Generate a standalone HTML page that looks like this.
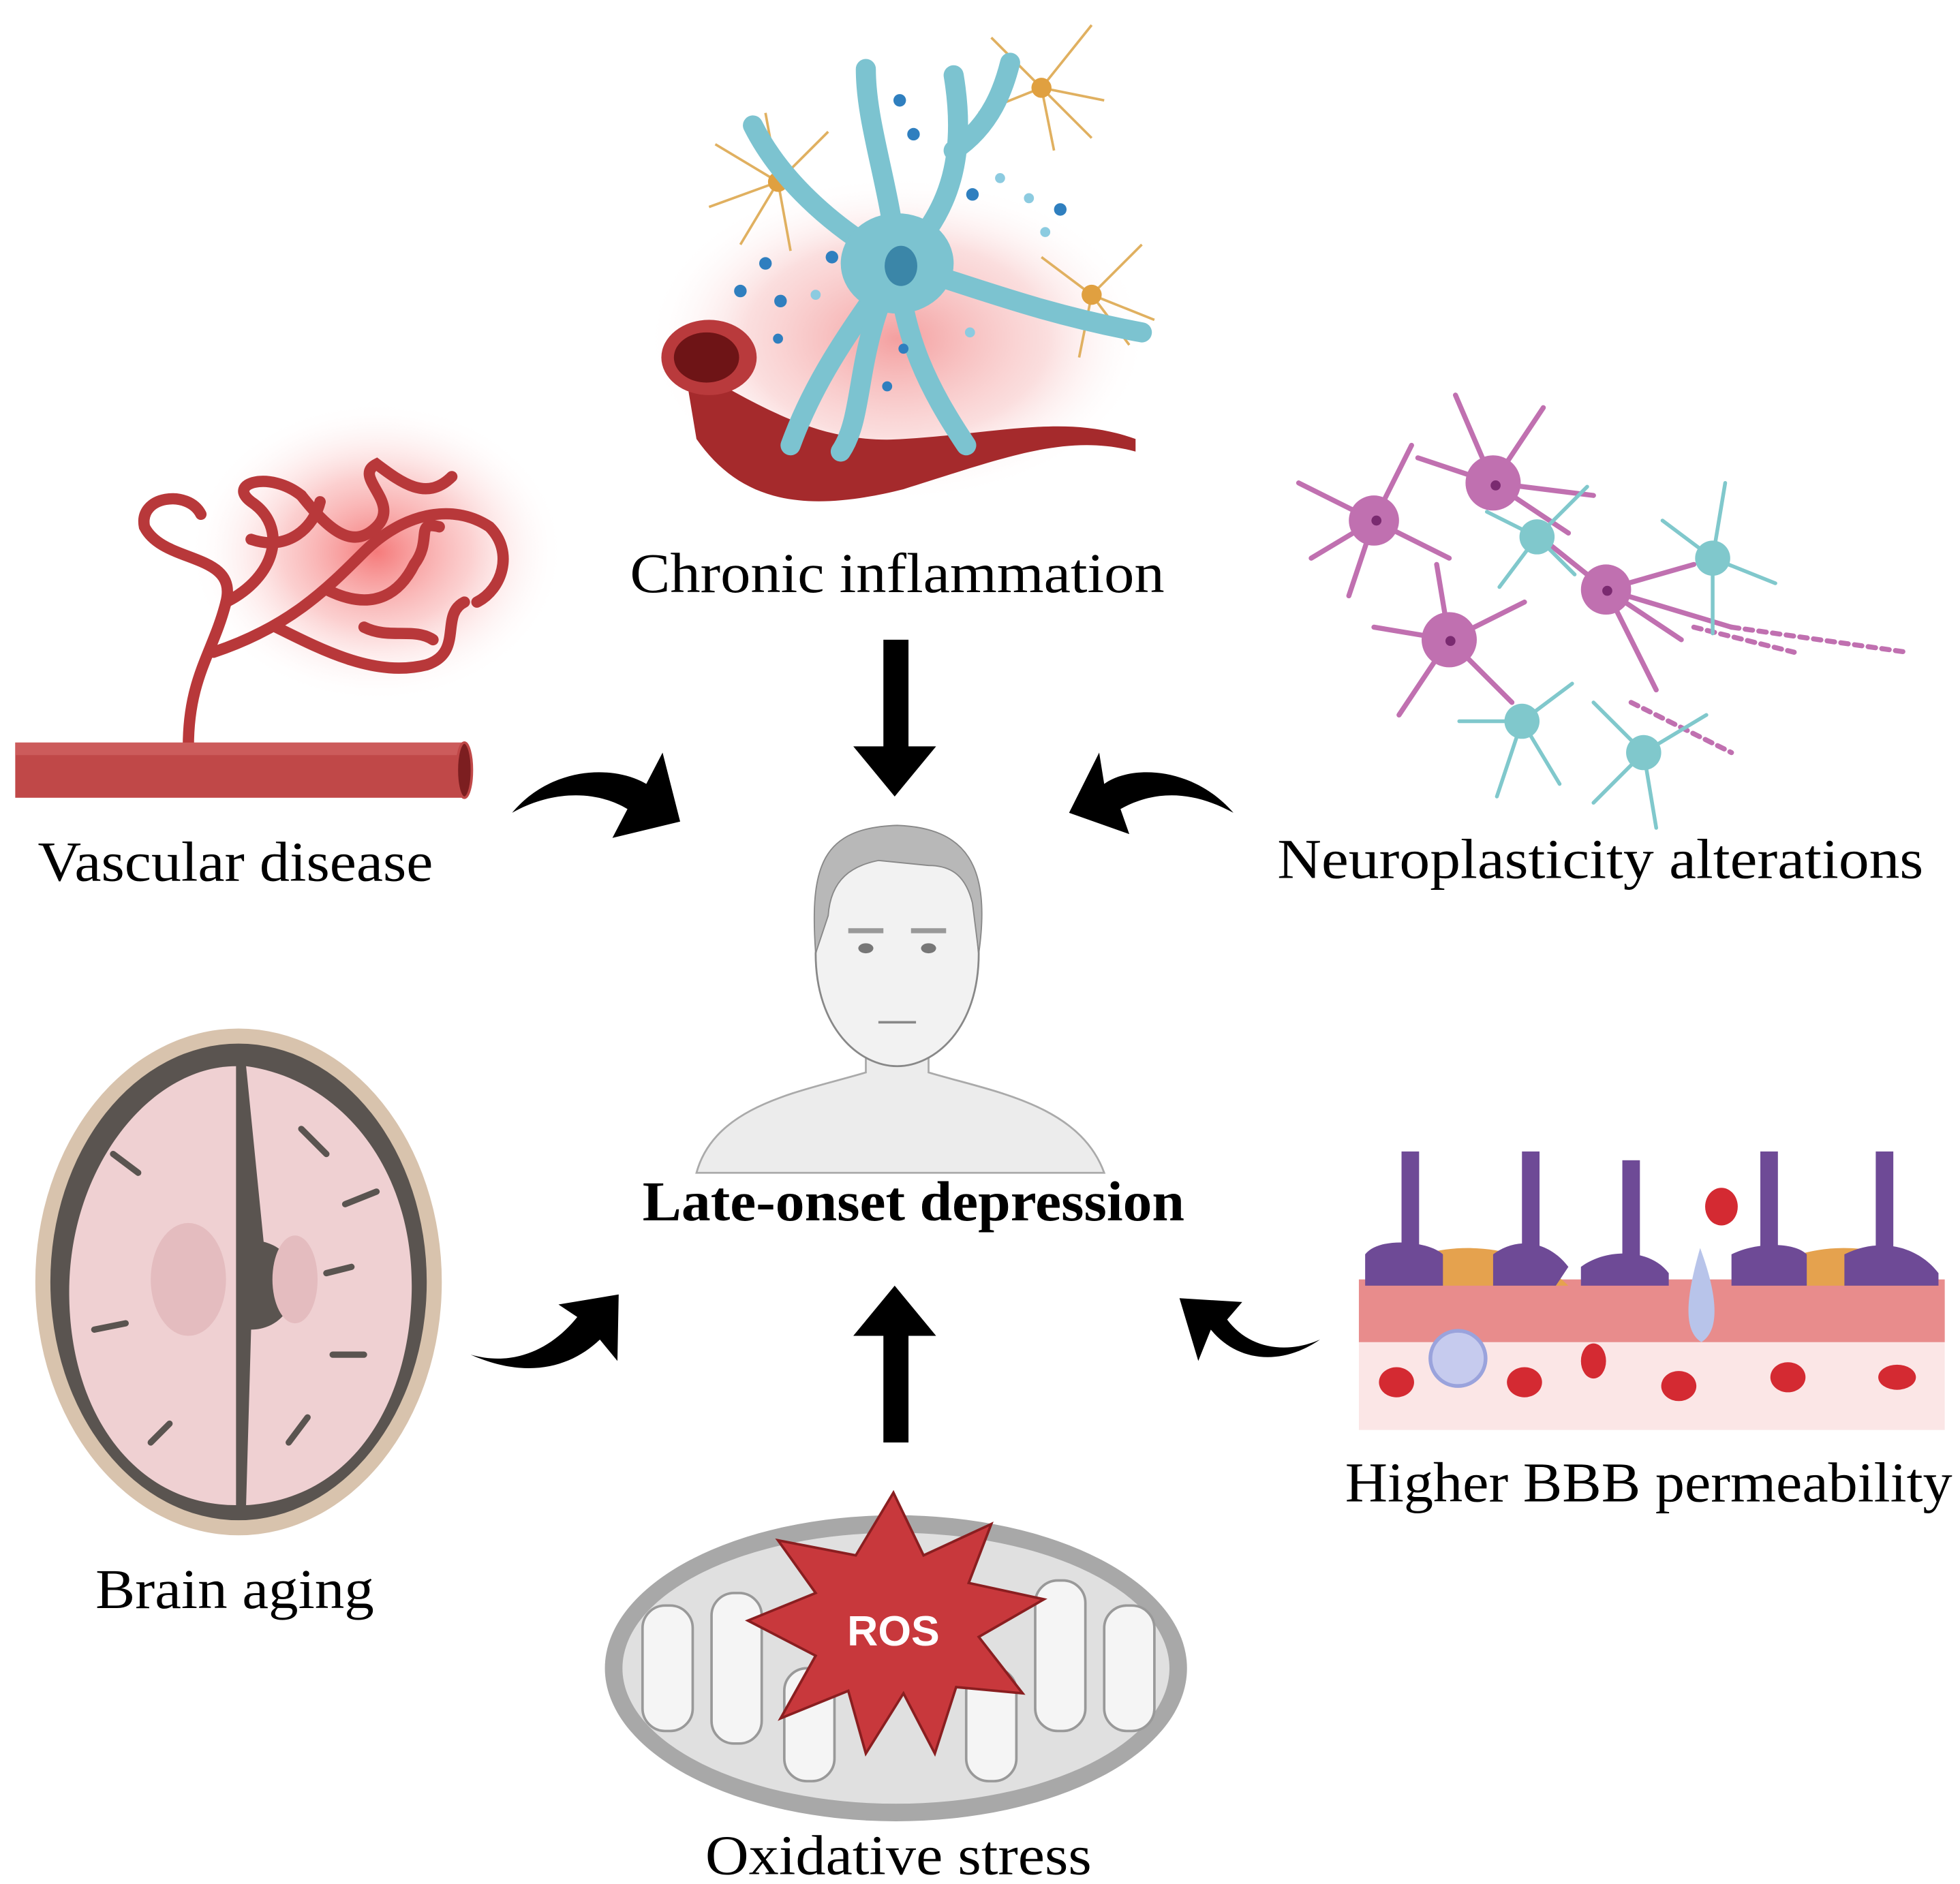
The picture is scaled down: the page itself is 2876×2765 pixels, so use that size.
<!DOCTYPE html>
<html><head><style>html,body{margin:0;padding:0;background:#fff}svg{display:block}</style></head>
<body>
<svg width="2876" height="2765" viewBox="0 0 1562 1502" xmlns="http://www.w3.org/2000/svg">
<defs>
<radialGradient id="rg" cx="0.5" cy="0.5" r="0.5"><stop offset="0" stop-color="#f4a0a0"/><stop offset="0.6" stop-color="#f8c8c8" stop-opacity="0.6"/><stop offset="1" stop-color="#fff" stop-opacity="0"/></radialGradient>
<radialGradient id="rg2" cx="0.5" cy="0.5" r="0.5"><stop offset="0" stop-color="#f57a7a"/><stop offset="0.5" stop-color="#f9b0b0" stop-opacity="0.6"/><stop offset="1" stop-color="#fff" stop-opacity="0"/></radialGradient>
</defs>
<rect width="1562" height="1502" fill="#fff"/>

<!-- Vascular disease -->
<ellipse cx="300" cy="440" rx="150" ry="120" fill="url(#rg2)"/>
<g fill="none" stroke="#b8383a" stroke-width="9" stroke-linecap="round">
<path d="M150 595 C150 540 170 520 180 480 C190 440 130 450 115 420 C110 395 150 390 160 410"/>
<path d="M180 480 C220 460 230 420 200 400 C180 385 215 375 240 395"/>
<path d="M170 520 C230 500 260 470 290 440 C320 410 360 400 390 420 C410 440 400 470 380 480"/>
<path d="M220 500 C260 520 300 540 340 530 C370 520 350 490 370 480"/>
<path d="M240 395 C260 420 280 440 300 420 C320 400 280 380 300 370 C320 385 340 400 360 380"/>
<path d="M260 470 C300 490 320 470 330 450 C345 430 330 415 350 420"/>
<path d="M200 430 C230 440 250 420 255 400"/>
<path d="M290 500 C310 510 330 500 345 510"/>
</g>
<rect x="12" y="592" width="360" height="44" fill="#c04848"/>
<rect x="12" y="592" width="360" height="10" fill="#cc5b5b"/>
<ellipse cx="370" cy="614" rx="6" ry="22" fill="#7c1e20" stroke="#c04848" stroke-width="2"/>

<!-- Chronic inflammation -->
<ellipse cx="715" cy="270" rx="200" ry="130" fill="url(#rg)"/>
<path d="M545 290 C600 320 650 355 720 350 C800 345 850 330 905 350 L905 360 C850 345 800 365 720 390 C640 410 590 400 555 350 Z" fill="#a52a2c"/>
<ellipse cx="565" cy="285" rx="38" ry="30" fill="#b93a3c"/>
<ellipse cx="563" cy="285" rx="26" ry="20" fill="#6e1416"/>
<g fill="none" stroke="#e0b060" stroke-width="2">
<path d="M620 145 l-50 -30 M620 145 l-55 20 M620 145 l-30 50 M620 145 l40 -40 M620 145 l10 55 M620 145 l-10 -55"/>
<path d="M830 70 l-40 -40 M830 70 l40 -50 M830 70 l50 10 M830 70 l-50 20 M830 70 l10 50 M830 70 l40 40"/>
<path d="M870 235 l-40 -30 M870 235 l40 -40 M870 235 l50 20 M870 235 l-10 50 M870 235 l30 40"/>
</g>
<circle cx="620" cy="145" r="8" fill="#e0a040"/><circle cx="830" cy="70" r="8" fill="#e0a040"/><circle cx="870" cy="235" r="8" fill="#e0a040"/>
<g fill="none" stroke="#7cc3d0" stroke-width="16" stroke-linecap="round">
<path d="M715 210 C710 150 690 100 690 55"/>
<path d="M715 210 C660 180 620 140 600 100"/>
<path d="M715 210 C760 170 770 120 760 60 M760 120 C790 100 800 70 805 50"/>
<path d="M715 210 C780 230 830 250 910 265"/>
<path d="M715 210 C680 260 650 300 630 355"/>
<path d="M715 210 C720 270 740 310 770 355"/>
<path d="M715 210 C680 280 690 330 670 360"/>
</g>
<ellipse cx="715" cy="210" rx="45" ry="40" fill="#7cc3d0"/>
<ellipse cx="718" cy="212" rx="13" ry="16" fill="#3b86a8"/>
<g fill="#2f7fbf"><circle cx="717" cy="80" r="5"/><circle cx="728" cy="107" r="5"/><circle cx="775" cy="155" r="5"/><circle cx="845" cy="167" r="5"/><circle cx="663" cy="205" r="5"/><circle cx="610" cy="210" r="5"/><circle cx="590" cy="232" r="5"/><circle cx="622" cy="240" r="5"/><circle cx="720" cy="278" r="4"/><circle cx="707" cy="308" r="4"/><circle cx="620" cy="270" r="4"/></g>
<g fill="#8ccbe0"><circle cx="797" cy="142" r="4"/><circle cx="820" cy="158" r="4"/><circle cx="833" cy="185" r="4"/><circle cx="773" cy="265" r="4"/><circle cx="650" cy="235" r="4"/></g>

<!-- Neuroplasticity -->
<g fill="none" stroke="#c070b0" stroke-width="4" stroke-linecap="round">
<path d="M1095 415 l-60 -30 M1095 415 l-50 30 M1095 415 l-20 60 M1095 415 l30 -60 M1095 415 l60 30"/>
<path d="M1190 385 l-30 -70 M1190 385 l40 -60 M1190 385 l80 10 M1190 385 l-60 -20 M1190 385 l60 40"/>
<path d="M1280 470 l70 -20 M1280 470 l60 40 M1280 470 l-50 -40 M1280 470 l100 30 M1280 470 l40 80"/>
<path d="M1155 510 l-60 -10 M1155 510 l-40 60 M1155 510 l50 50 M1155 510 l60 -30 M1155 510 l-10 -60"/>
<path d="M1350 500 l80 20 M1380 500 l140 20 M1300 560 l80 40" stroke-dasharray="6 5"/>
</g>
<g fill="#c070b0"><circle cx="1095" cy="415" r="20"/><circle cx="1190" cy="385" r="22"/><circle cx="1280" cy="470" r="20"/><circle cx="1155" cy="510" r="22"/></g>
<g fill="#7a2a70"><circle cx="1097" cy="415" r="4"/><circle cx="1192" cy="387" r="4"/><circle cx="1281" cy="471" r="4"/><circle cx="1156" cy="511" r="4"/></g>
<g fill="none" stroke="#80c8cc" stroke-width="3" stroke-linecap="round">
<path d="M1225 428 l-40 -20 M1225 428 l40 -40 M1225 428 l30 30 M1225 428 l-30 40"/>
<path d="M1365 445 l-40 -30 M1365 445 l10 -60 M1365 445 l50 20 M1365 445 l0 60"/>
<path d="M1213 575 l-50 0 M1213 575 l-20 60 M1213 575 l40 -30 M1213 575 l30 50"/>
<path d="M1310 600 l-40 -40 M1310 600 l50 -30 M1310 600 l10 60 M1310 600 l-40 40"/>
</g>
<g fill="#80c8cc"><circle cx="1225" cy="428" r="14"/><circle cx="1365" cy="445" r="14"/><circle cx="1213" cy="575" r="14"/><circle cx="1310" cy="600" r="14"/></g>

<!-- Person -->
<path d="M555 935 C570 880 640 870 690 855 L690 800 L740 800 L740 855 C790 870 860 880 880 935 Z" fill="#ececec" stroke="#aaa" stroke-width="1.5"/>
<path d="M660 700 C660 655 770 650 775 700 L780 760 C780 820 745 850 715 850 C685 850 650 820 650 760 Z" fill="#f2f2f2" stroke="#888" stroke-width="1.5"/>
<path d="M650 760 C645 690 655 660 715 658 C770 660 790 690 780 760 L775 720 C770 700 760 690 740 690 L700 686 C680 690 662 700 660 730 Z" fill="#b8b8b8" stroke="#888" stroke-width="1"/>
<g fill="#777"><ellipse cx="690" cy="756" rx="6" ry="4"/><ellipse cx="740" cy="756" rx="6" ry="4"/></g>
<path d="M700 815 h30" stroke="#888" stroke-width="2"/>
<path d="M676 742 h28 M726 742 h28" stroke="#999" stroke-width="4"/>

<!-- Brain aging -->
<ellipse cx="190" cy="1022" rx="162" ry="202" fill="#d8c3ad"/>
<ellipse cx="190" cy="1022" rx="150" ry="190" fill="#5a5450"/>
<path d="M188 850 C120 850 55 930 55 1030 C55 1130 110 1200 188 1200 Z" fill="#efd0d2"/>
<path d="M196 850 C270 860 330 930 328 1030 C326 1120 280 1195 196 1200 L200 1060 C240 1060 250 1000 210 990 Z" fill="#efd0d2"/>
<ellipse cx="150" cy="1020" rx="30" ry="45" fill="#e4bcbf"/>
<ellipse cx="235" cy="1020" rx="18" ry="35" fill="#e4bcbf"/>
<g fill="none" stroke="#5a5450" stroke-width="5" stroke-linecap="round">
<path d="M240 900 l20 20 M300 950 l-25 10 M290 1080 l-25 0 M230 1150 l15 -20 M90 920 l20 15 M75 1060 l25 -5 M120 1150 l15 -15 M280 1010 l-20 5"/>
</g>

<!-- BBB -->
<rect x="1083" y="1035" width="467" height="105" fill="#fbe6e6"/>
<rect x="1083" y="1020" width="467" height="50" fill="#e88c8c"/>
<path d="M1090 1025 C1130 985 1210 985 1250 1025 Z M1390 1025 C1430 985 1510 985 1545 1025 Z" fill="#e5a24e"/>
<g fill="#6e4a96">
<rect x="1117" y="918" width="14" height="80"/><rect x="1213" y="918" width="14" height="80"/><rect x="1293" y="925" width="14" height="80"/><rect x="1403" y="918" width="14" height="80"/><rect x="1495" y="918" width="14" height="80"/>
<path d="M1088 1000 C1100 985 1140 990 1150 1000 L1150 1025 L1088 1025 Z M1190 1000 C1210 985 1235 990 1250 1010 L1240 1025 L1190 1025 Z M1260 1010 C1280 995 1315 995 1330 1015 L1330 1025 L1260 1025 Z M1380 1000 C1400 990 1430 990 1440 1000 L1440 1025 L1380 1025 Z M1470 1000 C1500 985 1530 995 1545 1015 L1545 1025 L1470 1025 Z"/>
</g>
<path d="M1355 995 C1345 1030 1340 1060 1356 1070 C1372 1060 1368 1030 1355 995 Z" fill="#b8c4ea"/>
<circle cx="1162" cy="1083" r="22" fill="#c6cbee" stroke="#9aa3dc" stroke-width="3"/>
<g fill="#d42a32"><ellipse cx="1372" cy="962" rx="13" ry="15"/><ellipse cx="1113" cy="1102" rx="14" ry="12"/><ellipse cx="1215" cy="1102" rx="14" ry="12"/><ellipse cx="1270" cy="1085" rx="10" ry="14"/><ellipse cx="1338" cy="1105" rx="14" ry="12"/><ellipse cx="1425" cy="1098" rx="14" ry="12"/><ellipse cx="1512" cy="1098" rx="15" ry="10"/></g>

<!-- Mitochondria -->
<ellipse cx="714" cy="1330" rx="232" ry="122" fill="#a8a8a8"/>
<ellipse cx="714" cy="1330" rx="218" ry="108" fill="#e0e0e0"/>
<g fill="#f5f5f5" stroke="#999" stroke-width="2">
<rect x="512" y="1280" width="40" height="100" rx="18"/><rect x="567" y="1270" width="40" height="120" rx="18"/><rect x="625" y="1330" width="40" height="90" rx="18"/><rect x="770" y="1330" width="40" height="90" rx="18"/><rect x="825" y="1260" width="40" height="120" rx="18"/><rect x="880" y="1280" width="40" height="100" rx="18"/>
</g>
<polygon points="712,1190 736,1240 790,1215 772,1262 832,1275 780,1305 815,1350 762,1345 745,1398 720,1350 690,1398 676,1348 622,1370 650,1320 596,1292 650,1270 620,1228 682,1240" fill="#c8383c" stroke="#8a1e20" stroke-width="2"/>
<text x="712" y="1312" text-anchor="middle" font-family="Liberation Sans, sans-serif" font-weight="bold" font-size="34" fill="#fff">ROS</text>

<!-- Arrows -->
<g fill="#000">
<path d="M704 510 h20 v85 h22 l-33 40 l-33 -40 h24 Z"/>
<path d="M704 1150 h20 v-85 h22 l-33 -40 l-33 40 h24 Z"/>
<path d="M408 648 C440 610 490 610 515 625 L528 600 L542 655 L488 668 L500 645 C475 630 440 630 408 648 Z"/>
<path d="M983 648 C950 610 900 610 880 625 L876 600 L852 648 L900 665 L893 645 C920 630 950 630 983 648 Z"/>
<path d="M375 1080 C410 1090 440 1075 460 1050 L445 1040 L493 1032 L492 1085 L478 1068 C455 1090 420 1100 375 1080 Z"/>
<path d="M1052 1068 C1020 1090 985 1085 965 1060 L955 1085 L940 1035 L990 1038 L978 1052 C995 1075 1025 1080 1052 1068 Z"/>
</g>

<!-- Labels -->
<g font-family="Liberation Serif, serif" font-size="45" fill="#000" lengthAdjust="spacingAndGlyphs">
<text x="502" y="472" textLength="426" lengthAdjust="spacingAndGlyphs">Chronic inflammation</text>
<text x="30" y="702" textLength="315" lengthAdjust="spacingAndGlyphs">Vascular disease</text>
<text x="1018" y="700" textLength="515" lengthAdjust="spacingAndGlyphs">Neuroplasticity alterations</text>
<text x="512" y="973" font-weight="bold" textLength="432" lengthAdjust="spacingAndGlyphs">Late-onset depression</text>
<text x="76" y="1282" textLength="222" lengthAdjust="spacingAndGlyphs">Brain aging</text>
<text x="1072" y="1197" textLength="484" lengthAdjust="spacingAndGlyphs">Higher BBB permeability</text>
<text x="562" y="1494" textLength="308" lengthAdjust="spacingAndGlyphs">Oxidative stress</text>
</g>
</svg>
</body></html>
